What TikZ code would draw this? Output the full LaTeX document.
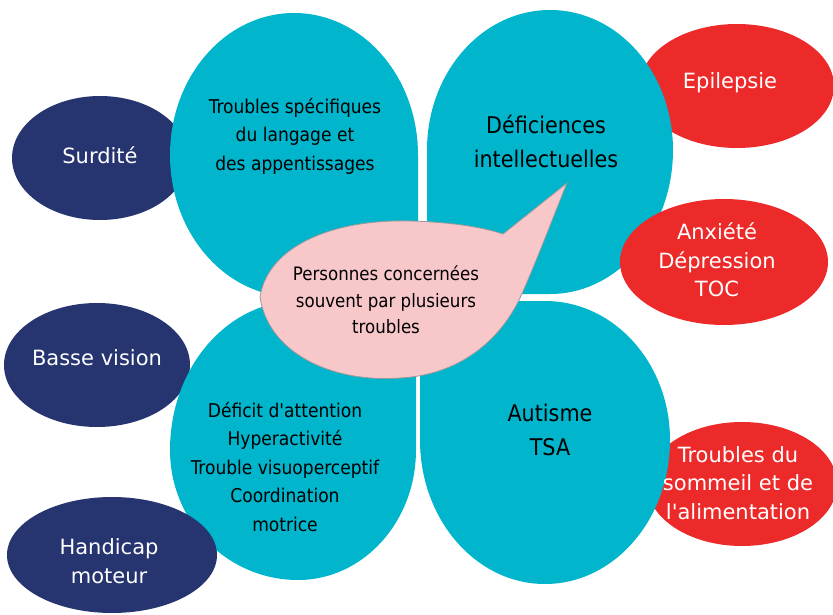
\documentclass[tikz,border=0pt]{standalone}
\usepackage{fontspec}
\setmainfont{DejaVu Sans}[Ligatures=TeXOff]
\newfontfamily\condensed{DejaVu Sans Condensed}[Ligatures=TeXOff]
\usepackage{tikz}
\definecolor{turquoise}{RGB}{0,181,204}
\definecolor{marine}{RGB}{38,52,111}
\definecolor{rouge}{RGB}{237,42,42}
\definecolor{rose}{RGB}{248,199,202}
\tikzstyle{sensoriel} = [fill=marine]
\tikzstyle{associe} = [fill=rouge]
\tikzstyle{petale} = [fill=turquoise]
\tikzstyle{bulle} = [fill=rose, draw=black!40, line width=0.8pt]
\tikzstyle{blanc} = [text=white, align=center, inner sep=0pt, font=\fontsize{21}{28.5}\selectfont]
\tikzstyle{trouble} = [text=black, align=center, inner sep=0pt, font=\condensed\fontsize{19}{28.5}\selectfont]
\tikzstyle{grandtrouble} = [trouble, font=\condensed\fontsize{23}{34}\selectfont]

\begin{document}
\begin{tikzpicture}[x=1pt, y=-1pt]
        \useasboundingbox (0,0) rectangle (833,615);

        \fill [sensoriel] (100,158) ellipse [x radius=88, y radius=62];
        \fill [sensoriel] (97,365) ellipse [x radius=93, y radius=62];
        \fill [associe] (737,86) ellipse [x radius=97, y radius=62];
        \fill [associe] (742,484) ellipse [x radius=95, y radius=62];

        \fill [petale] (418,297) -- (418,155) arc [start angle=0, end angle=-270, x radius=124, y radius=142] -- cycle;
        \fill [petale] (427,294) -- (427,150) arc [start angle=180, end angle=360, x radius=123, y radius=140] arc [start angle=0, end angle=90, x radius=123, y radius=144] -- cycle;
        \fill [petale] (416,301) -- (298,301) arc [start angle=270, end angle=180, x radius=128, y radius=149] arc [start angle=180, end angle=90, x radius=128, y radius=130] arc [start angle=90, end angle=0, x radius=118, y radius=130] -- cycle;
        \fill [petale] (420,301) -- (545,301) arc [start angle=270, end angle=360, x radius=125, y radius=139] arc [start angle=0, end angle=180, x radius=125, y radius=144] -- cycle;

        \fill [sensoriel] (112,555) ellipse [x radius=105, y radius=58];
        \fill [associe] (724,262) ellipse [x radius=104, y radius=63];

        \filldraw [bulle] (260,297) .. controls (268,245) and (335,219) .. (410,221)
            .. controls (450,222) and (482,227) .. (503,234) -- (567,183)
            .. controls (552,220) and (535,265) .. (520,298)
            .. controls (500,340) and (460,375) .. (400,378)
            .. controls (330,383) and (268,352) .. (260,297) -- cycle;

        \node (surdite) [blanc] at (100,155) {Surdité};
        \node (basse) [blanc] at (97,358) {Basse vision};
        \node (handicap) [blanc] at (109,561) {Handicap\\moteur};
        \node (epilepsie) [blanc] at (730,83) {Epilepsie};
        \node (anxiete) [blanc] at (717,260) {Anxiété\\Dépression\\TOC};
        \node (sommeil) [blanc] at (738,483) {Troubles du\\sommeil et de\\l'alimentation};

        \node (langage) [trouble] at (295,136) {Troubles spécifiques\\du langage et\\des appentissages};
        \node (intellect) [grandtrouble] at (546,141) {Déficiences\\intellectuelles};
        \node (attention) [trouble] at (285,467) {Déficit d'attention\\Hyperactivité\\Trouble visuoperceptif\\Coordination\\motrice};
        \node (autisme) [grandtrouble] at (550,430) {Autisme\\TSA};
        \node (personnes) [trouble, font=\condensed\fontsize{18.5}{26.5}\selectfont] at (386,300) {Personnes concernées\\souvent par plusieurs\\troubles};

\end{tikzpicture}
\end{document}
